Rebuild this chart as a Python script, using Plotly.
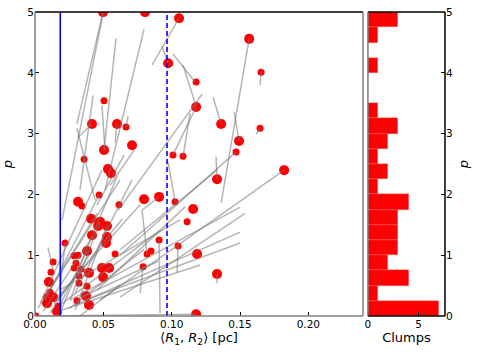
import plotly.graph_objects as go
from plotly.subplots import make_subplots

# clumps: mean radius <R1,R2> [pc] and p, big = large marker
clump_r = [0.0498, 0.0805, 0.1054, 0.0974, 0.1179, 0.1179, 0.0505, 0.0417, 0.0600, 0.0666,
           0.1362, 0.0710, 0.0505, 0.0359, 0.1010, 0.1083, 0.1493, 0.1471, 0.0534, 0.0556,
           0.1332, 0.1567, 0.1654, 0.1647, 0.1823, 0.1157, 0.1113, 0.1186, 0.1332, 0.1179,
           0.0798, 0.0908, 0.1025, 0.0908, 0.1047, 0.0820, 0.0849, 0.0791, 0.0315, 0.0344,
           0.0469, 0.0615, 0.0410, 0.0476, 0.0462, 0.0527, 0.0417, 0.0527, 0.0520, 0.0220,
           0.0381, 0.0586, 0.0315, 0.0286, 0.0132, 0.0300, 0.0337, 0.0286, 0.0395, 0.0490,
           0.0542, 0.0322, 0.0498, 0.0117, 0.0102, 0.0322, 0.0381, 0.0110, 0.0373, 0.0132,
           0.0095, 0.0088, 0.0307, 0.0395, 0.0168, 0.0161, 0.0007]
clump_p = [5.00, 5.00, 4.90, 4.16, 3.85, 3.44, 3.54, 3.16, 3.16, 3.11,
           3.16, 2.81, 2.73, 2.58, 2.65, 2.63, 2.88, 2.70, 2.42, 2.35,
           2.25, 4.56, 4.01, 3.09, 2.40, 1.76, 1.55, 1.02, 0.69, 0.03,
           1.92, 1.96, 1.88, 1.25, 1.15, 1.02, 1.07, 0.81, 1.88, 1.81,
           1.99, 1.83, 1.60, 1.55, 1.48, 1.48, 1.33, 1.30, 1.20, 1.20,
           1.07, 1.02, 1.00, 0.99, 0.89, 0.87, 0.77, 0.79, 0.71, 0.79,
           0.79, 0.66, 0.64, 0.72, 0.56, 0.54, 0.49, 0.39, 0.33, 0.31,
           0.30, 0.21, 0.25, 0.18, 0.16, 0.07, 0.00]
big = [1, 1, 1, 1, 0, 1, 0, 1, 1, 0,
       1, 1, 1, 0, 0, 0, 1, 0, 1, 1,
       1, 1, 0, 0, 1, 1, 0, 1, 1, 1,
       1, 1, 0, 0, 0, 0, 0, 0, 1, 0,
       0, 0, 1, 1, 1, 1, 1, 1, 1, 0,
       1, 0, 0, 0, 0, 0, 0, 0, 1, 1,
       1, 0, 1, 0, 1, 0, 0, 0, 1, 1,
       1, 1, 0, 1, 0, 1, 0]

# gray tracks: (r_a, p_a) -> (r_b, p_b)
seg_r1 = [0.0498, 0.0498, 0.0593, 0.0798, 0.0425, 0.0490, 0.0307, 0.0315, 0.0586, 0.0681,
          0.0725, 0.1054, 0.0930, 0.1010, 0.1083, 0.1223, 0.1179, 0.1135, 0.1303, 0.1457,
          0.1567, 0.1654, 0.1647, 0.1471, 0.1325, 0.1823, 0.1537, 0.1332, 0.0652, 0.1025,
          0.0908, 0.0037, 0.0022, 0.0073, 0.0110, 0.0146, 0.0183, 0.0198, 0.0256, 0.0293,
          0.0366, 0.0183, 0.0095, 0.0220, 0.0783, 0.0908, 0.1047, 0.0791, 0.1332, 0.0622,
          0.0381, 0.0476, 0.0527, 0.0037, 0.0183, 0.0293, 0.0110, 0.0454, 0.0060, 0.0250,
          0.0140, 0.0330]
seg_p1 = [5.00, 4.98, 4.57, 4.72, 3.63, 3.47, 3.09, 2.94, 2.85, 3.29,
          2.73, 4.90, 4.44, 4.31, 4.13, 3.65, 3.44, 3.34, 3.60, 3.36,
          4.56, 4.01, 3.09, 2.70, 2.62, 2.40, 1.69, 2.40, 2.65, 1.88,
          1.96, 0.00, 0.13, 0.26, 0.43, 0.26, 0.18, 0.10, 0.26, 0.18,
          0.26, 0.43, 1.13, 1.20, 1.74, 1.25, 1.15, 0.81, 0.69, 0.51,
          1.07, 1.55, 1.48, 0.21, 0.05, 0.38, 0.05, 0.43, 0.08, 0.12,
          0.20, 0.30]
seg_r2 = [0.0307, 0.0198, 0.0505, 0.0512, 0.0329, 0.0512, 0.0439, 0.0417, 0.0600, 0.0666,
          0.0549, 0.0857, 0.0974, 0.1171, 0.1179, 0.0608, 0.1010, 0.1083, 0.1362, 0.1493,
          0.1362, 0.1647, 0.1618, 0.0622, 0.1332, 0.0476, 0.0622, 0.0622, 0.0454, 0.0974,
          0.0783, 0.1179, 0.0454, 0.0469, 0.0622, 0.0769, 0.0915, 0.1208, 0.1501, 0.1501,
          0.1501, 0.1061, 0.0132, 0.0183, 0.0820, 0.0915, 0.1040, 0.0769, 0.1332, 0.0329,
          0.0183, 0.0256, 0.0293, 0.0490, 0.0600, 0.0710, 0.0395, 0.1100, 0.0420, 0.0800,
          0.0640, 0.0900]
seg_p2 = [3.16, 1.58, 2.73, 2.07, 2.07, 2.73, 1.91, 3.16, 3.16, 3.11,
          2.15, 4.13, 4.16, 3.85, 3.45, 1.74, 2.65, 2.62, 3.16, 2.88,
          1.86, 3.80, 2.99, 1.00, 2.25, 0.26, 0.31, 1.09, 1.83, 2.53,
          1.74, 0.03, 1.69, 1.99, 2.24, 1.83, 1.41, 0.84, 1.79, 1.38,
          1.20, 1.58, 0.76, 0.43, 1.02, 0.05, 0.72, 0.38, 0.54, 0.00,
          0.18, 0.26, 0.10, 2.40, 2.29, 2.24, 1.00, 1.80, 1.30, 1.10,
          1.60, 0.90]

r_solid = 0.0185
r_dashed = 0.0966

# histogram of p
bin_lo = [0.0, 0.25, 0.5, 0.75, 1.0, 1.25, 1.5, 1.75, 2.0, 2.25,
          2.5, 2.75, 3.0, 3.25, 3.5, 3.75, 4.0, 4.25, 4.5, 4.75]
counts = [7, 1, 4, 2, 3, 3, 3, 4, 1, 2,
          1, 2, 3, 1, 0, 0, 1, 0, 1, 3]
bin_w = 0.25

x_ticks = [0.0, 0.05, 0.10, 0.15, 0.20]
x_labels = ["0.00", "0.05", "0.10", "0.15", "0.20"]
p_ticks = [0, 1, 2, 3, 4, 5]

fig = make_subplots(rows=1, cols=2, column_widths=[0.8, 0.19], horizontal_spacing=0.01)

fig.add_trace(go.Scatter(
    x=clump_r, y=clump_p, mode="markers",
    marker=dict(color="red", opacity=1, size=[10 if b else 7 for b in big], line=dict(width=0)),
    showlegend=False
), row=1, col=1)

sx, sy = [], []
for a, b, c, d in zip(seg_r1, seg_p1, seg_r2, seg_p2):
    sx += [a, c, None]
    sy += [b, d, None]
fig.add_trace(go.Scatter(
    x=sx, y=sy, mode="lines",
    line=dict(color="rgba(120,120,120,0.55)", width=1.5),
    showlegend=False
), row=1, col=1)

fig.add_trace(go.Scatter(x=[r_solid, r_solid], y=[0, 5], mode="lines",
                         line=dict(color="blue", width=1.6), showlegend=False), row=1, col=1)
fig.add_trace(go.Scatter(x=[r_dashed, r_dashed], y=[0, 5], mode="lines",
                         line=dict(color="blue", width=1.6, dash="5px,3px"), showlegend=False), row=1, col=1)

fig.add_trace(go.Bar(
    x=counts, y=[b + bin_w / 2 for b in bin_lo], width=bin_w, orientation="h",
    marker=dict(color="red", line=dict(color="rgba(255,120,120,0.6)", width=0.5)),
    showlegend=False
), row=1, col=2)

font = dict(family="DejaVu Sans", size=10.5, color="black")
fig.update_layout(
    width=479, height=356,
    margin=dict(l=35, r=34, t=12, b=40),
    plot_bgcolor="white", paper_bgcolor="white",
    font=font, bargap=0,
)
fig.update_xaxes(domain=[0, 0.8], range=[0, 0.24], tickvals=x_ticks, ticktext=x_labels,
                 ticks="inside", ticklen=4, tickcolor="black", showgrid=False, zeroline=False,
                 automargin=False, ticklabeloverflow="allow",
                 title=dict(text="⟨<i>R</i><sub>1</sub>, <i>R</i><sub>2</sub>⟩ [pc]", standoff=4),
                 row=1, col=1)
fig.update_yaxes(range=[0, 5.002], tickvals=p_ticks, ticks="inside", ticklen=4, tickcolor="black",
                 showgrid=False, zeroline=False, automargin=False, ticklabeloverflow="allow",
                 title=dict(text="<i>p</i>", standoff=12), row=1, col=1)
fig.update_xaxes(domain=[0.812, 1.0], range=[0, 7.6], tickvals=[0, 5],
                 ticks="inside", ticklen=4, tickcolor="black", showgrid=False, zeroline=False,
                 automargin=False, ticklabeloverflow="allow",
                 title=dict(text="Clumps", standoff=4), row=1, col=2)
fig.update_yaxes(range=[0, 5.002], tickvals=p_ticks, side="right", ticks="inside", ticklen=4,
                 tickcolor="black", showgrid=False, zeroline=False, showticklabels=True,
                 automargin=False, ticklabeloverflow="allow",
                 title=dict(text="<i>p</i>", standoff=6), row=1, col=2)

# frame edges
edges = [
    ("x", "y", 0, 1, 1, 1, "black"), ("x", "y", 0, 0, 0, 1, "gray"),
    ("x", "y", 1, 0, 1, 1, "gray"), ("x", "y", 0, 0, 1, 0, "gray"),
    ("x2", "y2", 0, 1, 1, 1, "black"), ("x2", "y2", 0, 0, 0, 1, "gray"),
    ("x2", "y2", 1, 0, 1, 1, "black"), ("x2", "y2", 0, 0, 1, 0, "black"),
]
for xr, yr, x0, y0, x1, y1, c in edges:
    fig.add_shape(type="line", xref=xr + " domain", yref=yr + " domain",
                  x0=x0, y0=y0, x1=x1, y1=y1, line=dict(color=c, width=1.5), layer="above")

# drop the default page margin so the figure sits at the window's corner
fig.write_html("out.html", config={"displayModeBar": False},
               post_script="document.body.style.margin='0';")
